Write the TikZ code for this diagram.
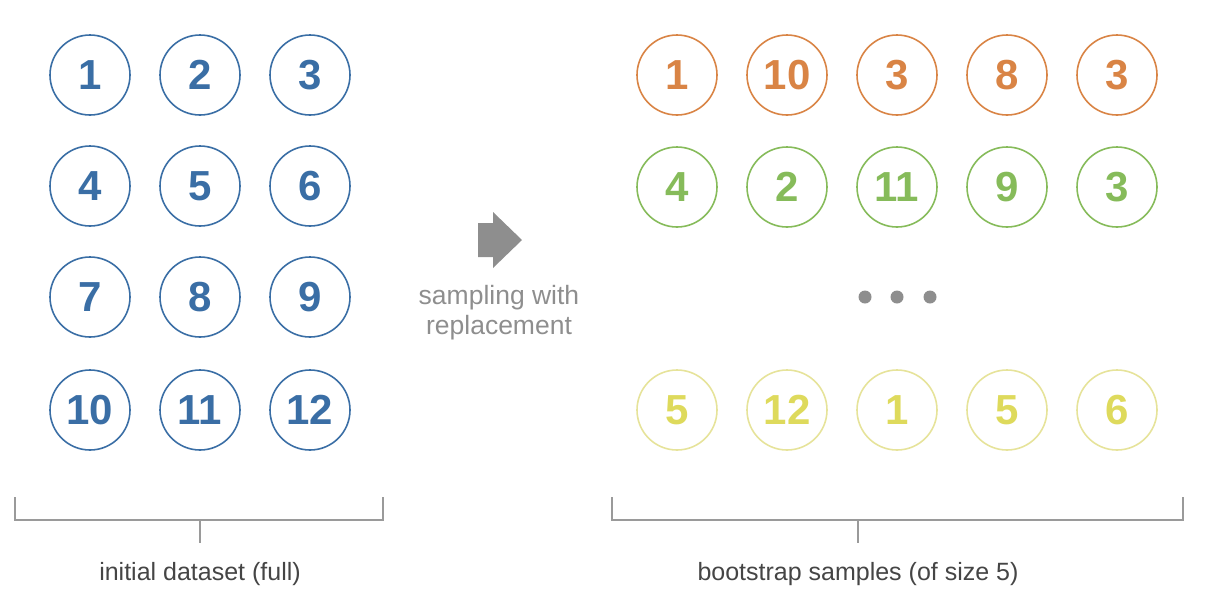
\documentclass[tikz,border=0pt]{standalone}
\usepackage{fontspec}
\setmainfont{Liberation Sans}
\definecolor{cblue}{HTML}{3A6EA5}
\definecolor{corange}{HTML}{D98445}
\definecolor{cgreen}{HTML}{86BB5A}
\definecolor{cyellow}{HTML}{DEDA5C}
\definecolor{cyellowline}{HTML}{E6E39A}
\definecolor{cgray}{HTML}{8E8E8E}
\definecolor{ctext}{HTML}{454545}
\definecolor{cbracket}{HTML}{9A9A9A}
\tikzset{
  ball/.style={circle, draw=#1, line width=1.6pt, minimum size=80pt, inner sep=0pt,
    text=#1, font=\fontsize{42}{42}\selectfont\bfseries},
  yball/.style={circle, draw=cyellowline, line width=1.6pt, minimum size=80pt, inner sep=0pt,
    text=cyellow, font=\fontsize{42}{42}\selectfont\bfseries},
  lbl/.style={text=ctext, font=\fontsize{25}{30}\selectfont},
  brk/.style={draw=cbracket, line width=1.5pt},
  dot/.style={circle, fill=cgray, minimum size=13pt, inner sep=0pt},
}
\begin{document}
\begin{tikzpicture}[x=1pt,y=-1pt]
\useasboundingbox (0,0) rectangle (1210,614);
% left dataset
\foreach \n [count=\i from 0] in {1,...,12}{
  \pgfmathtruncatemacro{\c}{mod(\i,3)}
  \pgfmathtruncatemacro{\r}{div(\i,3)}
  \pgfmathsetmacro{\yy}{\r==3 ? 410 : 75+\r*111}
  \node[ball=cblue] (L\n) at (90+\c*110,\yy) {\n};
}
% right samples
\foreach \v [count=\i from 0] in {1,10,3,8,3}{
  \node[ball=corange] (A\i) at (677+\i*110,75) {\v};
}
\foreach \v [count=\i from 0] in {4,2,11,9,3}{
  \node[ball=cgreen] (B\i) at (677+\i*110,187) {\v};
}
\foreach \v [count=\i from 0] in {5,12,1,5,6}{
  \node[yball] (C\i) at (677+\i*110,410) {\v};
}
\node[dot] (d1) at (865,297) {};
\node[dot] (d2) at (897,297) {};
\node[dot] (d3) at (930,297) {};
% arrow
\fill[cgray] (478,223) -- (493,223) -- (493,212) -- (522,240) -- (493,268) -- (493,257) -- (478,257) -- cycle;
\node[font=\fontsize{26.5}{30}\selectfont, text=cgray, align=center] (samp) at (499,313) {sampling with\\replacement};
% brackets
\coordinate (lb1) at (15,497);
\coordinate (lb2) at (383,497);
\coordinate (lbm) at (200,520);
\draw[brk] (lb1) |- (lb2 |- lbm) -- (lb2);
\draw[brk] (lbm) -- ++(0,23);
\node[lbl] (ltext) at (200,574) {initial dataset (full)};
\coordinate (rb1) at (612,497);
\coordinate (rb2) at (1183,497);
\coordinate (rbm) at (858,520);
\draw[brk] (rb1) |- (rb2 |- rbm) -- (rb2);
\draw[brk] (rbm) -- ++(0,23);
\node[lbl] (rtext) at (858,574) {bootstrap samples (of size 5)};
\end{tikzpicture}
\end{document}
